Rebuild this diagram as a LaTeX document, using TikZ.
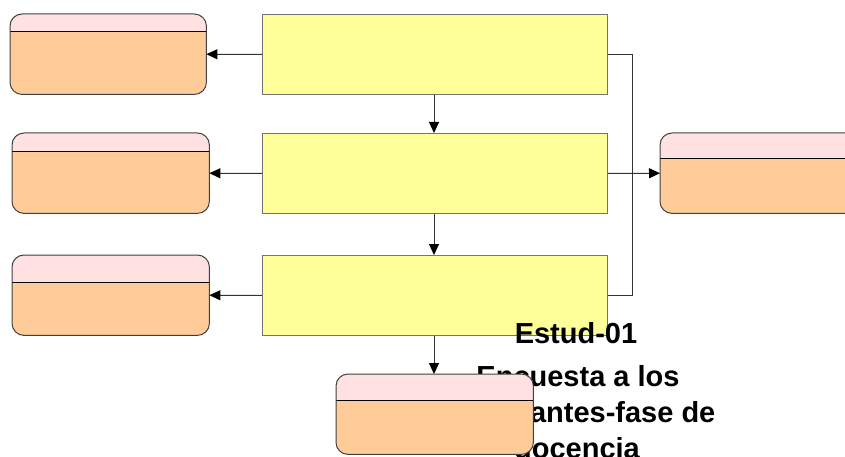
\documentclass[tikz,border=0pt]{standalone}
\usepackage{fontspec}
\setmainfont{Liberation Sans}
\usetikzlibrary{arrows.meta}
\definecolor{yel}{HTML}{FFFF99}
\definecolor{ora}{HTML}{FFCC99}
\definecolor{pnk}{HTML}{FFE1E1}
\definecolor{bdr}{HTML}{404040}
\tikzset{
  ybox/.style={draw=black!55, fill=yel, line width=1pt, inner sep=0pt, anchor=north west},
  obox/.style={fill=ora, rounded corners=12pt, inner sep=0pt, anchor=north west},
  conn/.style={draw=black!80, line width=1pt},
  arr/.style={conn, -{Triangle[length=11pt,width=10pt,black]}},
  lbl/.style={font=\bfseries\fontsize{29pt}{36pt}\selectfont, inner sep=0pt, anchor=base}
}
\newcommand\storehead[2]{%
  \begin{scope}
    \clip[rounded corners=12pt] (#1.north west) rectangle (#1.south east);
    \fill[pnk] (#1.north west) rectangle ([yshift=-#2]#1.north east);
  \end{scope}
  \draw[line width=1pt, black] ([yshift=-#2]#1.north west) -- ([yshift=-#2]#1.north east);
  \draw[bdr, line width=1pt, rounded corners=12pt] (#1.north west) rectangle (#1.south east);
}
\begin{document}
\begin{tikzpicture}[x=1pt,y=-1pt]
\useasboundingbox (0,0) rectangle (845,457);
% yellow process boxes
\node[ybox, minimum width=345pt, minimum height=80pt] (Y1) at (262,14) {};
\node[ybox, minimum width=345pt, minimum height=80pt] (Y2) at (262,133) {};
\node[ybox, minimum width=345pt, minimum height=80pt] (Y3) at (262,255) {};
% left stores
\node[obox, minimum width=196pt, minimum height=80pt] (A) at (10,14) {};
\storehead{A}{18pt}
\node[obox, minimum width=197pt, minimum height=80pt] (B) at (12,133) {};
\storehead{B}{19pt}
\node[obox, minimum width=197pt, minimum height=80pt] (C) at (12,255) {};
\storehead{C}{27pt}
% right store
\node[obox, minimum width=200pt, minimum height=80pt] (E) at (660,133) {};
\storehead{E}{26pt}
% text overflowing from bottom store
\node[lbl] (t1) at (576,343) {Estud-01};
\node[lbl] (t2) at (578,386) {Encuesta a los};
\node[lbl] (t3) at (580,422) {estudiantes-fase de};
\node[lbl] (t4) at (577,458) {docencia};
% bottom store
\node[obox, minimum width=197pt, minimum height=80pt] (D) at (336,374) {};
\storehead{D}{26pt}
% connectors
\draw[arr] (Y1.west) -- (A.east);
\draw[arr] (Y2.west) -- (B.east);
\draw[arr] (Y3.west) -- (C.east);
\draw[arr] (Y1.south -| 434,0) -- (Y2.north -| 434,0);
\draw[arr] (Y2.south -| 434,0) -- (Y3.north -| 434,0);
\draw[arr] (Y3.south -| 434,0) -- (D.north -| 434,0);
\coordinate (J) at (632,173);
\draw[conn] (Y1.east) -| (J);
\draw[conn] (Y3.east) -| (J);
\draw[arr] (Y2.east) -- (E.west);
\end{tikzpicture}
\end{document}
